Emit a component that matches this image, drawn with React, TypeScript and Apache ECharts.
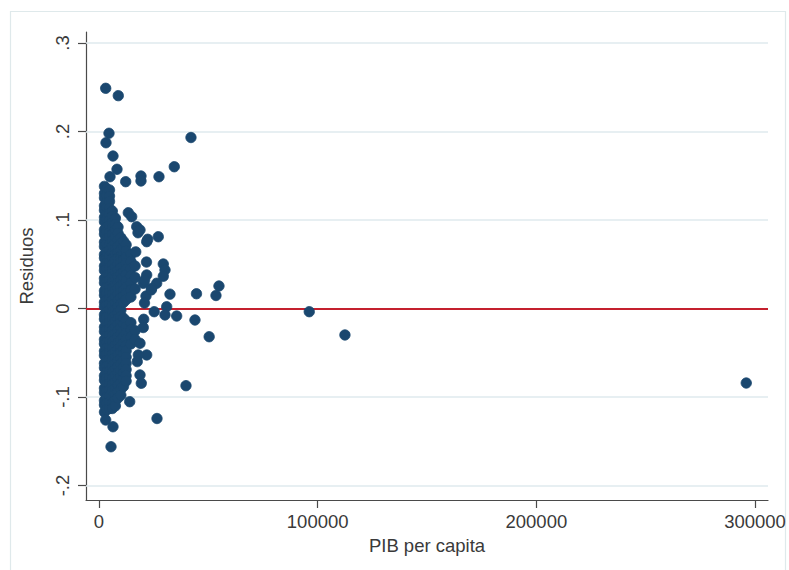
import React, { useEffect, useRef } from "react";
import * as echarts from "echarts";

// X ticks (PIB per capita) and Y ticks (Residuos)
const xTicks = [0, 100000, 200000, 300000];
const yTicks = [-0.2, -0.1, 0, 0.1, 0.2, 0.3];
const gridValues = [-0.2, -0.1, 0.1, 0.2, 0.3];

// Dense cluster: PIB per capita of each column and the residuals stacked in it
const clusterPib = [2500, 3600, 4800, 6100, 7500, 8700, 10000, 11200, 12400, 14600, 16500];
const clusterResiduos: number[][] = [
  [0.138, 0.130, 0.125, 0.116, 0.111, 0.103, 0.098, 0.089, 0.084, 0.075, 0.070, 0.061, 0.057, 0.048,
    0.043, 0.034, 0.029, 0.020, 0.015, 0.007, 0.002, -0.007, -0.012, -0.021, -0.026, -0.035, -0.040,
    -0.048, -0.053, -0.062, -0.067, -0.076, -0.081, -0.090, -0.095, -0.104, -0.109, -0.117],
  [0.135, 0.128, 0.120, 0.114, 0.106, 0.101, 0.092, 0.087, 0.078, 0.073, 0.064, 0.059, 0.051, 0.045,
    0.037, 0.031, 0.024, 0.017, 0.010, 0.004, -0.004, -0.010, -0.017, -0.024, -0.031, -0.038, -0.045,
    -0.051, -0.058, -0.065, -0.072, -0.079, -0.086, -0.093, -0.100, -0.107, -0.114],
  [0.134, 0.127, 0.121, 0.113, 0.107, 0.100, 0.094, 0.086, 0.080, 0.072, 0.066, 0.059, 0.052, 0.046,
    0.038, 0.032, 0.025, 0.018, 0.011, 0.005, -0.002, -0.009, -0.016, -0.023, -0.030, -0.037, -0.044,
    -0.050, -0.057, -0.064, -0.071, -0.078, -0.085, -0.092, -0.099, -0.106, -0.113],
  [0.110, 0.104, 0.097, 0.091, 0.084, 0.077, 0.070, 0.063, 0.057, 0.050, 0.043, 0.036, 0.030, 0.023,
    0.016, 0.009, 0.003, -0.004, -0.011, -0.018, -0.025, -0.031, -0.038, -0.045, -0.052, -0.058, -0.065,
    -0.072, -0.079, -0.086, -0.093, -0.100, -0.107, -0.113],
  [0.102, 0.095, 0.088, 0.081, 0.074, 0.068, 0.061, 0.054, 0.047, 0.041, 0.034, 0.027, 0.020, 0.013,
    0.006, -0.001, -0.008, -0.015, -0.021, -0.028, -0.035, -0.042, -0.049, -0.055, -0.062, -0.069,
    -0.076, -0.083, -0.090, -0.097, -0.104, -0.110],
  [0.092, 0.085, 0.077, 0.070, 0.063, 0.057, 0.050, 0.043, 0.036, 0.029, 0.023, 0.016, 0.009, 0.002,
    -0.005, -0.012, -0.018, -0.025, -0.032, -0.039, -0.046, -0.052, -0.059, -0.066, -0.073, -0.080,
    -0.087, -0.094, -0.101],
  [0.080, 0.073, 0.066, 0.059, 0.052, 0.046, 0.039, 0.032, 0.025, 0.018, 0.012, 0.005, -0.002, -0.009,
    -0.016, -0.022, -0.029, -0.036, -0.043, -0.050, -0.057, -0.063, -0.070, -0.077, -0.084, -0.091, -0.098],
  [0.076, 0.069, 0.062, 0.055, 0.048, 0.041, 0.035, 0.028, 0.021, 0.014, 0.007, -0.011, -0.018, -0.025,
    -0.032, -0.039, -0.046, -0.052, -0.059, -0.066, -0.073, -0.080, -0.088],
  [0.072, 0.065, 0.058, 0.051, 0.044, 0.038, 0.031, 0.024, 0.017, 0.010, -0.014, -0.021, -0.028,
    -0.035, -0.042, -0.048, -0.055, -0.062, -0.069, -0.076, -0.082],
  [0.061, 0.053, 0.045, 0.037, 0.029, 0.021, 0.013, -0.016, -0.024, -0.032, -0.040],
  [0.048, 0.035, 0.022, -0.025, -0.035],
];

// Scattered observations: [PIB per capita, residuo]
const outliers: [number, number][] = [
  [3060, 0.2488], [8820, 0.2405], [4570, 0.198], [3200, 0.1873], [6400, 0.1723], [8230, 0.1573],
  [5030, 0.1489], [12210, 0.1433], [19200, 0.1497], [19200, 0.1441], [27430, 0.1489], [34430, 0.1602],
  [42060, 0.1932], [13400, 0.1082], [14950, 0.1037], [17240, 0.0924], [17830, 0.0856], [22270, 0.0782],
  [27110, 0.0811], [21810, 0.0755], [21720, 0.0525], [29400, 0.0503], [30180, 0.0435], [29400, 0.0364],
  [21810, 0.0379], [20250, 0.0285], [26380, 0.0285], [24090, 0.0228], [54860, 0.0254], [53490, 0.0147],
  [32460, 0.0162], [44580, 0.0167], [21490, 0.0141], [20800, 0.0062], [30950, 0.002], [30180, -0.0073],
  [25240, -0.0036], [35520, -0.0085], [43890, -0.013], [20440, -0.0122], [20250, -0.0215],
  [50380, -0.0319], [18750, -0.0393], [21810, -0.0525], [17970, -0.0525], [18750, -0.0751],
  [19340, -0.0845], [39780, -0.0872], [14040, -0.1053], [26520, -0.1243], [3060, -0.126],
  [6400, -0.1336], [5490, -0.1562], [96150, -0.0036], [112470, -0.0299], [296000, -0.0842],
  [18750, 0.0887], [20890, 0.032], [23910, 0.021], [16800, 0.064], [17500, -0.06],
];

const FONT = "Liberation Sans, Arial, sans-serif";
const TEXT = "#3a3a3a";
const AXIS = "#4a4a4a";
const NAVY = "#1a476f";

function fmtY(v: number): string {
  if (Math.abs(v) < 1e-9) return "0";
  const s = Math.abs(v).toFixed(1).replace(/^0/, "");
  return (v < 0 ? "-" : "") + s;
}

export default function App() {
  const ref = useRef<HTMLDivElement>(null);
  useEffect(() => {
    if (!ref.current) return;
    const chart = echarts.init(ref.current, undefined, { renderer: "svg" });
    const points: [number, number][] = [];
    clusterPib.forEach((pib, i) => {
      clusterResiduos[i].forEach((r) => points.push([pib, r]));
    });
    outliers.forEach((p) => points.push(p));

    chart.setOption({
      animation: false,
      backgroundColor: "#ffffff",
      textStyle: { fontFamily: FONT },
      graphic: [
        {
          type: "rect",
          shape: { x: 10.5, y: 11.5, width: 775, height: 620 },
          style: { fill: "none", stroke: "#dfe9eb", lineWidth: 1.2 },
          silent: true,
          z: -10,
        },
      ],
      grid: { left: 86, right: 21, top: 32, bottom: 70, containLabel: false },
      xAxis: {
        type: "value",
        min: -5945,
        max: 305943,
        name: "PIB per capita",
        nameLocation: "middle",
        nameGap: 31,
        nameTextStyle: { fontSize: 18.5, color: TEXT, fontFamily: FONT },
        axisLine: { show: true, onZero: false, lineStyle: { color: AXIS, width: 1.2 } },
        axisTick: { show: true, length: 8, customValues: xTicks, lineStyle: { color: AXIS, width: 1.2 } },
        axisLabel: {
          customValues: xTicks,
          fontSize: 18.5,
          color: TEXT,
          fontFamily: FONT,
          margin: 12,
          formatter: (v: number) => String(Math.round(v)),
        },
        splitLine: { show: false },
      },
      yAxis: {
        type: "value",
        min: -0.21638,
        max: 0.31243,
        name: "Residuos",
        nameLocation: "middle",
        nameRotate: 90,
        nameGap: 50,
        nameTextStyle: { fontSize: 18.5, color: TEXT, fontFamily: FONT },
        axisLine: { show: true, onZero: false, lineStyle: { color: AXIS, width: 1.2 } },
        axisTick: { show: true, length: 8, customValues: yTicks, lineStyle: { color: AXIS, width: 1.2 } },
        axisLabel: {
          customValues: yTicks,
          rotate: 90,
          fontSize: 18.5,
          color: TEXT,
          fontFamily: FONT,
          margin: 14,
          formatter: (v: number) => fmtY(v),
        },
        splitLine: { show: false },
      },
      series: [
        {
          type: "scatter",
          data: [],
          z: 1,
          silent: true,
          markLine: {
            silent: true,
            symbol: "none",
            label: { show: false },
            animation: false,
            data: [
              ...gridValues.map((v) => ({ yAxis: v, lineStyle: { color: "#dfeaee", width: 1.5, type: "solid" } })),
              { yAxis: 0, lineStyle: { color: "#c4202e", width: 1.8, type: "solid" } },
            ],
          },
        },
        {
          type: "scatter",
          data: points,
          z: 5,
          symbol: "circle",
          symbolSize: 10.4,
          itemStyle: { color: NAVY, opacity: 1, borderColor: NAVY, borderWidth: 0.8 },
          silent: true,
        },
      ],
    });
    return () => chart.dispose();
  }, []);

  return (
    <div
      ref={ref}
      style={{ position: "fixed", left: 0, top: 0, width: 789, height: 570, background: "#fff" }}
    />
  );
}
